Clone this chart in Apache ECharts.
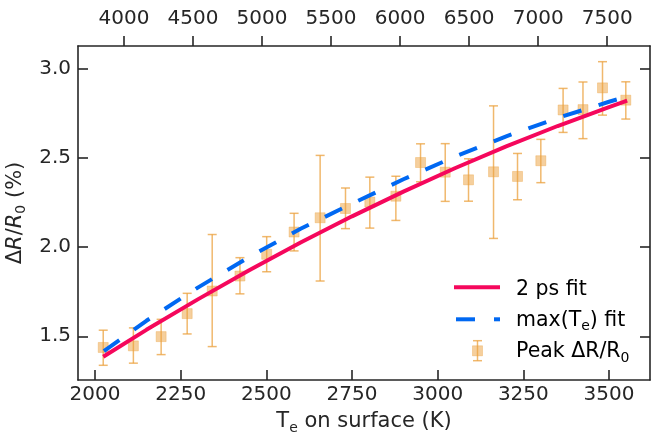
<!DOCTYPE html>
<html><head><meta charset="utf-8">
<script src="https://cdn.jsdelivr.net/npm/echarts@6/dist/echarts.min.js"></script>
<style>html,body{margin:0;padding:0;background:#fff}#c{width:651px;height:435px}</style>
</head><body><div id="c"></div>
<script>
// Measured peak dR/R0 (%) vs surface electron temperature (K)
const tempK   = [2024, 2112, 2193, 2269, 2342, 2423, 2501, 2581, 2657, 2731, 2802, 2878, 2950, 3022, 3090, 3163, 3233, 3301, 3366, 3424, 3481, 3549];
const peak    = [1.437, 1.446, 1.498, 1.627, 1.754, 1.838, 1.960, 2.085, 2.165, 2.217, 2.253, 2.286, 2.475, 2.421, 2.378, 2.423, 2.397, 2.485, 2.770, 2.772, 2.894, 2.825];
const errLow  = [1.337, 1.349, 1.397, 1.513, 1.442, 1.738, 1.862, 1.979, 1.810, 2.104, 2.107, 2.150, 2.367, 2.257, 2.258, 2.049, 2.266, 2.362, 2.644, 2.609, 2.741, 2.719];
const errHigh = [1.534, 1.547, 1.595, 1.741, 2.071, 1.941, 2.059, 2.190, 2.515, 2.332, 2.393, 2.398, 2.580, 2.581, 2.496, 2.793, 2.526, 2.605, 2.891, 2.927, 3.041, 2.928];
// "2 ps fit" curve
const fit2psT = [2024, 2150, 2300, 2450, 2600, 2750, 2900, 3050, 3200, 3350, 3500, 3553];
const fit2psV = [1.385, 1.536, 1.707, 1.871, 2.026, 2.173, 2.312, 2.443, 2.566, 2.680, 2.786, 2.822];
// "max(Te) fit" curve
const fitMaxT = [2026, 2150, 2300, 2450, 2600, 2750, 2900, 3050, 3200, 3350, 3500, 3552];
const fitMaxV = [1.416, 1.587, 1.773, 1.945, 2.103, 2.244, 2.381, 2.508, 2.622, 2.725, 2.816, 2.845];
// Tick labels
const bottomTicks = [2000, 2250, 2500, 2750, 3000, 3250, 3500];
const topTicks = [4000, 4500, 5000, 5500, 6000, 6500, 7000, 7500];
const yTicks = [1.5, 2.0, 2.5, 3.0];

const FONT = 'DejaVu Sans';
const INK = '#262626';
const RED = '#f5075c';
const BLUE = '#0068f2';
const ORANGE_FILL = 'rgba(235,160,60,0.5)';
const ORANGE_LINE = 'rgba(235,160,60,0.75)';

const chart = echarts.init(document.getElementById('c'), null, {renderer: 'canvas'});

const axisLineStyle = {color: INK, width: 1.6};
const tickStyle = {color: INK, width: 1.6};
const labelBase = {color: INK, fontSize: 20, fontFamily: FONT};

const subRich = {
  a: {fontSize: 21, fontFamily: FONT, color: INK, lineHeight: 26},
  i: {fontSize: 21, fontFamily: FONT, fontStyle: 'italic', color: INK, lineHeight: 26},
  sub: {fontSize: 14, fontFamily: FONT, color: INK, lineHeight: 14, verticalAlign: 'bottom'}
};
const legRich = {
  a: {fontSize: 20.5, fontFamily: FONT, color: INK, lineHeight: 26},
  sub: {fontSize: 14, fontFamily: FONT, color: INK, lineHeight: 14, verticalAlign: 'bottom'}
};

const option = {
  animation: false,
  backgroundColor: '#fff',
  grid: {left: 78, right: 1, top: 46, bottom: 55, containLabel: false, outerBoundsMode: 'none'},
  xAxis: [
    {
      type: 'value', position: 'bottom', min: 1950.4, max: 3619.6,
      axisLine: {show: true, lineStyle: axisLineStyle},
      axisTick: {show: true, inside: true, length: 10, lineStyle: tickStyle, customValues: bottomTicks},
      axisLabel: Object.assign({margin: 5, customValues: bottomTicks, formatter: v => String(v)}, labelBase),
      splitLine: {show: false},
      name: '{a|T}{sub|e}{a| on surface (K)}',
      nameLocation: 'middle', nameGap: 29,
      nameTextStyle: {rich: subRich}
    },
    {
      type: 'value', position: 'top', min: 3667, max: 7810,
      axisLine: {show: true, lineStyle: axisLineStyle},
      axisTick: {show: true, inside: false, length: 10, lineStyle: tickStyle, customValues: topTicks},
      axisLabel: Object.assign({margin: 17, customValues: topTicks, formatter: v => String(v)}, labelBase),
      splitLine: {show: false}
    }
  ],
  yAxis: [
    {
      type: 'value', position: 'left', min: 1.2545, max: 3.129,
      axisLine: {show: true, lineStyle: axisLineStyle},
      axisTick: {show: true, inside: true, length: 10, lineStyle: tickStyle, customValues: yTicks},
      axisLabel: Object.assign({margin: 7, customValues: yTicks, formatter: v => v.toFixed(1)}, labelBase),
      splitLine: {show: false},
      name: '{a|Δ}{i|R}{a|/}{i|R}{sub|0}{a| (%)}',
      nameLocation: 'middle', nameGap: 41, nameRotate: 90,
      nameTextStyle: {rich: subRich}
    },
    {
      type: 'value', position: 'right', min: 1.2545, max: 3.129,
      axisLine: {show: true, lineStyle: axisLineStyle},
      axisTick: {show: true, inside: true, length: 10, lineStyle: tickStyle, customValues: yTicks},
      axisLabel: {show: false},
      splitLine: {show: false}
    }
  ],
  series: [
    {
      name: 'errorbars', type: 'custom', xAxisIndex: 0, yAxisIndex: 0, z: 1,
      data: tempK.map((t, i) => [t, errLow[i], errHigh[i]]),
      encode: {x: 0, y: [1, 2]},
      renderItem: function (params, api) {
        const x = api.value(0), lo = api.value(1), hi = api.value(2);
        const pLo = api.coord([x, lo]);
        const pHi = api.coord([x, hi]);
        const hw = 4.5;
        const st = {stroke: ORANGE_LINE, lineWidth: 1.5, fill: null};
        return {type: 'group', children: [
          {type: 'line', shape: {x1: pLo[0], y1: pLo[1], x2: pHi[0], y2: pHi[1]}, style: st},
          {type: 'line', shape: {x1: pLo[0] - hw, y1: pLo[1], x2: pLo[0] + hw, y2: pLo[1]}, style: st},
          {type: 'line', shape: {x1: pHi[0] - hw, y1: pHi[1], x2: pHi[0] + hw, y2: pHi[1]}, style: st}
        ]};
      }
    },
    {
      name: 'Peak ΔR/R0', type: 'scatter', xAxisIndex: 0, yAxisIndex: 0, z: 2,
      symbol: 'rect', symbolSize: 10,
      itemStyle: {color: ORANGE_FILL, borderColor: 'rgba(235,160,60,0.35)', borderWidth: 1, opacity: 1},
      data: tempK.map((t, i) => [t, peak[i]])
    },
    {
      name: '2 ps fit', type: 'line', xAxisIndex: 0, yAxisIndex: 0, z: 3,
      symbol: 'none', showSymbol: false,
      lineStyle: {color: RED, width: 4},
      data: fit2psT.map((t, i) => [t, fit2psV[i]])
    },
    {
      name: 'max(Te) fit', type: 'line', xAxisIndex: 0, yAxisIndex: 0, z: 4,
      symbol: 'none', showSymbol: false,
      lineStyle: {color: BLUE, width: 4, type: [19, 18], cap: 'butt'},
      data: fitMaxT.map((t, i) => [t, fitMaxV[i]])
    }
  ],
  graphic: [
    {type: 'line', shape: {x1: 454, y1: 287.3, x2: 500, y2: 287.3}, style: {stroke: RED, lineWidth: 4}},
    {type: 'line', shape: {x1: 456, y1: 319.3, x2: 500, y2: 319.3}, style: {stroke: BLUE, lineWidth: 4, lineDash: [19, 19], lineCap: 'butt'}},
    {type: 'line', shape: {x1: 477.5, y1: 340.7, x2: 477.5, y2: 360.7}, style: {stroke: ORANGE_LINE, lineWidth: 1.5}},
    {type: 'line', shape: {x1: 473, y1: 340.7, x2: 482, y2: 340.7}, style: {stroke: ORANGE_LINE, lineWidth: 1.5}},
    {type: 'line', shape: {x1: 473, y1: 360.7, x2: 482, y2: 360.7}, style: {stroke: ORANGE_LINE, lineWidth: 1.5}},
    {type: 'rect', shape: {x: 472.5, y: 345.8, width: 10, height: 10}, style: {fill: ORANGE_FILL, stroke: 'rgba(235,160,60,0.35)', lineWidth: 1}},
    {type: 'text', x: 516, y: 289.4, style: {text: '{a|2 ps fit}', rich: legRich, textVerticalAlign: 'middle', verticalAlign: 'middle'}},
    {type: 'text', x: 516, y: 320.7, style: {text: '{a|max(T}{sub|e}{a|) fit}', rich: legRich, textVerticalAlign: 'middle', verticalAlign: 'middle'}},
    {type: 'text', x: 516, y: 352, style: {text: '{a|Peak ΔR/R}{sub|0}', rich: legRich, textVerticalAlign: 'middle', verticalAlign: 'middle'}}
  ]
};
chart.setOption(option);
</script>
</body></html>
